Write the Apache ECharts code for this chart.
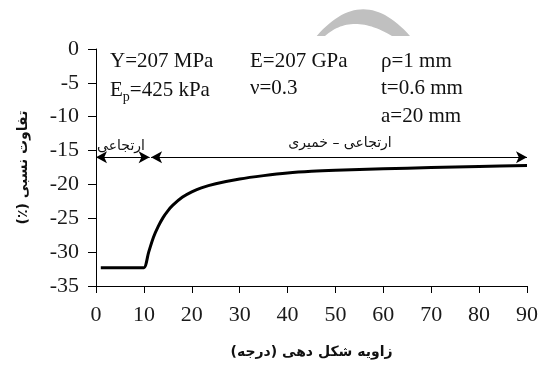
<!DOCTYPE html>
<html><head><meta charset="utf-8">
<script src="https://cdn.jsdelivr.net/npm/echarts@6/dist/echarts.min.js"></script>
<style>html,body{margin:0;padding:0;background:#fff}#c{width:542px;height:365px}</style>
</head><body><div id="c"></div>
<script>
var angles = [1, 2, 3, 4, 5, 6, 7, 8, 9, 10, 11, 12, 13, 14, 15, 16, 18, 20, 22, 25, 30, 35, 40, 45, 50, 60, 70, 80, 90];
var diffs  = [-32.3, -32.3, -32.3, -32.3, -32.3, -32.3, -32.3, -32.3, -32.3, -32.3, -30.0, -27.8, -26.2, -24.9, -23.9, -23.1, -21.9, -21.1, -20.5, -19.9, -19.2, -18.7, -18.3, -18.05, -17.9, -17.7, -17.5, -17.35, -17.2];
var xTicks = [0, 10, 20, 30, 40, 50, 60, 70, 80, 90];
var yTicks = [0, -5, -10, -15, -20, -25, -30, -35];
var arrowY = -16;
var elasticRange = [0, 11.2];
var plasticRange = [11.5, 90];
var RLE = '\u202B', PDF = '\u202C';
var xName = RLE + 'زاویه شکل دهی (درجه)' + PDF;
var yName = RLE + 'تفاوت نسبی (٪)' + PDF;
var elasticLabel = RLE + 'ارتجاعی' + PDF;
var plasticLabel = RLE + 'ارتجاعی – خمیری' + PDF;

var serif = '"Liberation Serif", "Times New Roman", serif';
var pers = '"DejaVu Sans", sans-serif';
var data = angles.map(function (a, i) { return [a, diffs[i]]; });

// decorative grey crescent (watermark-like shape at top of the picture)
function quad(p0, c, p1, n) {
  var pts = [];
  for (var i = 0; i <= n; i++) {
    var t = i / n, u = 1 - t;
    pts.push([u * u * p0[0] + 2 * u * t * c[0] + t * t * p1[0], u * u * p0[1] + 2 * u * t * c[1] + t * t * p1[1]]);
  }
  return pts;
}
var crescent = quad([316.7, 36], [363, -17.4], [410, 36], 30).concat(quad([392, 36], [352, 12], [325, 36], 30));

var chart = echarts.init(document.getElementById('c'));
chart.setOption({
  animation: false,
  grid: { left: 96, right: 15, top: 49, bottom: 79, containLabel: false, outerBoundsMode: 'none' },
  xAxis: {
    type: 'value', min: xTicks[0], max: xTicks[xTicks.length - 1], interval: 10,
    splitLine: { show: false },
    axisLine: { onZero: false, lineStyle: { color: '#000', width: 1 } },
    axisTick: { show: true, length: 7, lineStyle: { color: '#000' } },
    axisLabel: { color: '#1a1a1a', fontFamily: serif, fontSize: 22, margin: 18 },
    name: xName, nameLocation: 'middle', nameGap: 59,
    nameTextStyle: { fontFamily: pers, fontSize: 14, fontWeight: 'bold', color: '#111' }
  },
  yAxis: {
    type: 'value', min: yTicks[yTicks.length - 1], max: yTicks[0], interval: 5,
    splitLine: { show: false },
    axisLine: { onZero: false, lineStyle: { color: '#000', width: 1 } },
    axisTick: { show: true, length: 8, lineStyle: { color: '#000' } },
    axisLabel: { color: '#1a1a1a', fontFamily: serif, fontSize: 22, margin: 17 },
    name: yName, nameLocation: 'middle', nameGap: 66, nameRotate: 90,
    nameTextStyle: { fontFamily: pers, fontSize: 14, fontWeight: 'bold', color: '#111' }
  },
  series: [{
    type: 'line', data: data, showSymbol: false, smooth: 0.3,
    lineStyle: { color: '#000', width: 3 },
    markLine: {
      silent: true, symbol: ['arrow', 'arrow'], symbolSize: [9, 11],
      label: { show: false },
      lineStyle: { color: '#000', width: 1, type: 'solid' },
      data: [
        [{ coord: [elasticRange[0], arrowY] }, { coord: [elasticRange[1], arrowY] }],
        [{ coord: [plasticRange[0], arrowY] }, { coord: [plasticRange[1], arrowY] }]
      ]
    }
  }],
  graphic: [
    { type: 'polygon', shape: { points: crescent }, style: { fill: '#c0c0c0' }, z: 0 },
    { type: 'text', left: 110, top: 51, style: { text: 'Y=207 MPa', font: '21px ' + serif, fill: '#111' } },
    { type: 'text', left: 110, top: 77, style: {
        text: '{n|E}{s|p}{n|=425 kPa}',
        rich: { n: { fontFamily: serif, fontSize: 21, fill: '#111', lineHeight: 25 }, s: { fontFamily: serif, fontSize: 14, fill: '#111', padding: [13, 0, 0, 0], lineHeight: 25 } }
      } },
    { type: 'text', left: 250, top: 51, style: { text: 'E=207 GPa', font: '21px ' + serif, fill: '#111' } },
    { type: 'text', left: 250, top: 78, style: { text: 'ν=0.3', font: '21px ' + serif, fill: '#111' } },
    { type: 'text', left: 381, top: 51, style: { text: 'ρ=1 mm', font: '21px ' + serif, fill: '#111' } },
    { type: 'text', left: 381, top: 78, style: { text: 't=0.6 mm', font: '21px ' + serif, fill: '#111' } },
    { type: 'text', left: 381, top: 106, style: { text: 'a=20 mm', font: '21px ' + serif, fill: '#111' } },
    { type: 'text', x: 121, y: 146, style: { text: elasticLabel, font: '14px ' + pers, fill: '#111', align: 'center', verticalAlign: 'middle' } },
    { type: 'text', x: 340, y: 143, style: { text: plasticLabel, font: '14px ' + pers, fill: '#111', align: 'center', verticalAlign: 'middle' } }
  ]
});
</script></body></html>
